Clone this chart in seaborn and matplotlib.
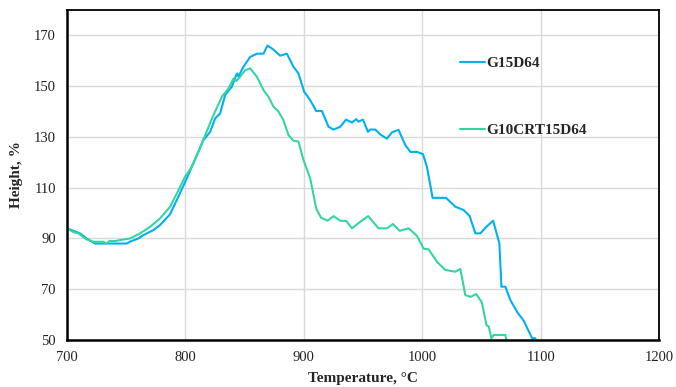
import matplotlib
matplotlib.use("Agg")
import matplotlib.pyplot as plt
import seaborn as sns
import pandas as pd

# ---- data ----
blue_label = "G15D64"
blue_T = [700, 711, 716.6, 723.7, 750.5, 753, 760.3, 764.5, 773, 778.6, 787, 794,
          801.2, 809.6, 815.2, 820.9, 825.1, 829.3, 833.6, 839.2, 843.5, 844.8, 849,
          854.7, 860.4, 866, 869.3, 874.4, 880, 885.7, 891.3, 895.5, 900.3, 905.4,
          910.5, 915.3, 920.9, 925.1, 930.8, 935.6, 940.7, 944.3, 946.2, 950, 954.2,
          956.1, 960.4, 964.6, 970.2, 974.5, 980, 985.7, 990, 995.6, 1000.7, 1004,
          1008.8, 1020.1, 1028, 1035, 1040.1, 1044.9, 1049.1, 1054.2, 1059.9, 1065.2,
          1066.9, 1070.2, 1074.5, 1080.1, 1085.7, 1092.8, 1095.6]
blue_H = [94, 92, 90, 88, 88, 88.7, 90, 91.3, 93.3, 95.3, 99.5, 106.4,
          113.7, 122.8, 128.7, 132, 137.3, 139.2, 146.5, 149.8, 155, 153.8, 157.6,
          161.5, 162.8, 162.8, 166, 164.4, 162, 162.8, 157.6, 155, 147.8, 144.5,
          140.2, 140.2, 134, 132.9, 134, 136.8, 135.7, 137, 136, 136.8, 132,
          132.9, 132.9, 131, 129.3, 131.8, 132.8, 126.8, 124.1, 124.1, 123.2, 118.2,
          106, 106, 102.5, 101.2, 98.8, 92, 92, 94.6, 97, 88,
          71, 71, 65.7, 61.1, 57.6, 50.7, 50.7]

green_label = "G10CRT15D64"
green_T = [700, 705.3, 709.6, 716.6, 722.2, 730.7, 733.6, 735.8, 740.6, 747.6, 753.3,
           761.7, 770.2, 778.6, 787.1, 792.7, 799.7, 805.4, 811, 816.7, 823.7, 830.8,
           836.3, 840.6, 842.9, 846.2, 850.5, 854.7, 860.4, 866, 870.2, 874.4, 878.6,
           882.8, 887.1, 891.3, 895.5, 899.7, 905.4, 910.5, 914.5, 920.1, 925.1, 930.8,
           935.8, 940.7, 947.7, 954.4, 963.1, 970.2, 975.3, 980.9, 988.5, 995.6, 1001.2,
           1005.4, 1012.5, 1019.5, 1028, 1032.2, 1036.4, 1040.7, 1045.7, 1050.5, 1054.2,
           1056.2, 1058.4, 1060.4, 1070.2, 1071.1]
green_H = [94, 92.5, 92, 89.6, 88.7, 88.7, 88, 89, 89, 89.6, 90,
           92, 94.6, 97.9, 102.5, 107.7, 114.3, 118.2, 124.1, 130.7, 138.6, 145.8,
           149, 153, 152, 153.7, 156.3, 157, 153.7, 148.4, 145.8, 141.9, 140,
           136.6, 130.7, 128.5, 128.2, 120.9, 113.7, 101.8, 98.2, 97, 98.8, 97,
           96.9, 94, 96.6, 98.8, 94, 94, 95.7, 93, 94, 91, 86,
           85.7, 80.8, 77.6, 76.9, 78, 67.7, 67, 68.1, 64.7, 55.9,
           55.3, 50.7, 52, 52, 50]

x_ticks = [700, 800, 900, 1000, 1100, 1200]
y_ticks = [50, 70, 90, 110, 130, 150, 170]

df = pd.concat([
    pd.DataFrame({"T": blue_T, "H": blue_H, "series": blue_label}),
    pd.DataFrame({"T": green_T, "H": green_H, "series": green_label}),
], ignore_index=True)

sns.set_theme(style="whitegrid")
plt.rcParams["font.family"] = ["Liberation Serif", "DejaVu Serif"]

fig = plt.figure(figsize=(6.76, 3.87), dpi=100)
ax = fig.add_axes([67 / 676, 1 - 340 / 387, (659 - 67) / 676, (340 - 10) / 387])

sns.lineplot(data=df, x="T", y="H", hue="series", sort=False, estimator=None,
             palette={blue_label: "#00B0F0", green_label: "#33D6A3"},
             linewidth=1.5, ax=ax)

ax.set_xlim(700, 1200)
ax.set_ylim(50, 180)
ax.set_xticks(x_ticks)
ax.set_yticks(y_ticks)
ax.grid(True, color="#D9D9D9", linewidth=1.0)
ax.tick_params(axis="both", length=0, labelsize=10.5, colors="#222222", pad=8)
for side in ["left", "bottom", "top", "right"]:
    ax.spines[side].set_visible(True)
    ax.spines[side].set_color("black")
    ax.spines[side].set_linewidth(1.3)
ax.spines["left"].set_linewidth(1.8)
ax.spines["bottom"].set_linewidth(1.8)

ax.set_xlabel("Temperature, °C", fontsize=11, fontweight="bold", labelpad=6)
ax.set_ylabel("Height, %", fontsize=11, fontweight="bold", labelpad=8)

leg = ax.legend(loc="upper left", bbox_to_anchor=(0.641, 0.90), frameon=False,
                handlelength=1.6, handletextpad=0.1, labelspacing=3.45,
                prop={"family": "Liberation Serif", "weight": "bold", "size": 11})
for line in leg.get_lines():
    line.set_linewidth(1.5)

fig.savefig("out.png", dpi=100)
